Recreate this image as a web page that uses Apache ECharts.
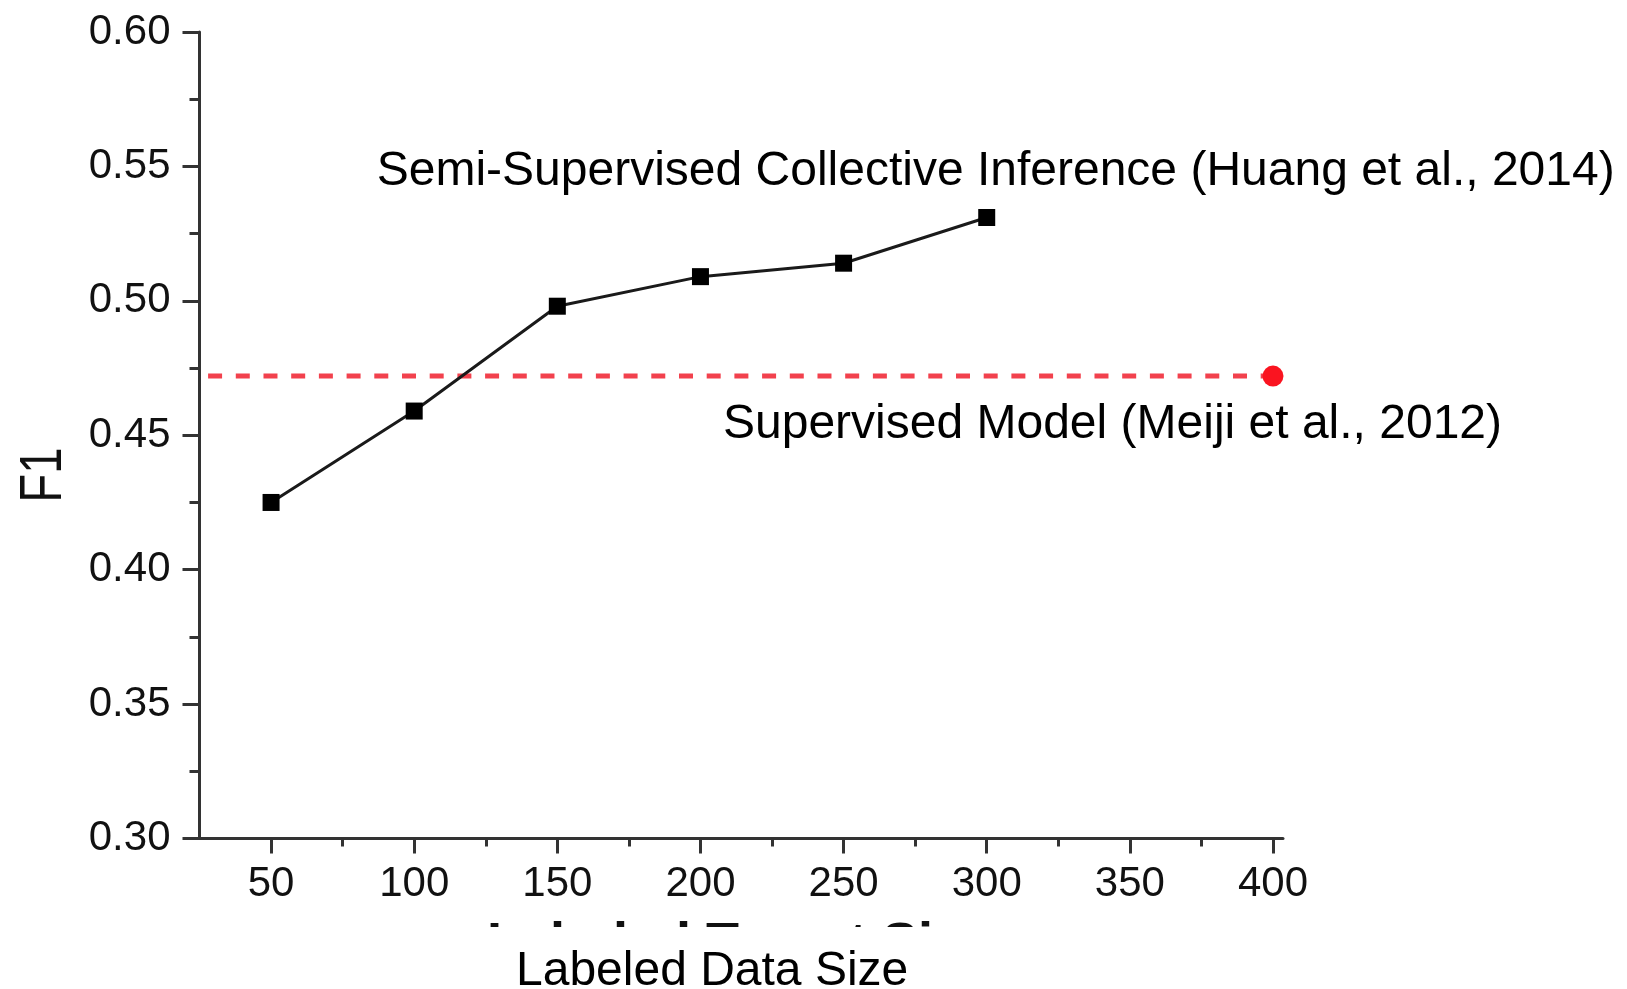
<!DOCTYPE html>
<html>
<head>
<meta charset="utf-8">
<script src="https://cdn.jsdelivr.net/npm/echarts@6/dist/echarts.min.js"></script>
<style>
html,body{margin:0;padding:0;background:#fff;}
#chart{width:1627px;height:989px;}
</style>
</head>
<body>
<div id="chart"></div>
<script>
// ---- data ----
var labeledSizes = [50, 100, 150, 200, 250, 300];
var semiSupervisedF1 = [0.425, 0.459, 0.498, 0.509, 0.514, 0.531];
var supervisedF1 = 0.472;
var supervisedRange = [28, 400];
var xMajorTicks = [50, 100, 150, 200, 250, 300, 350, 400];
var xMinorTicks = [75, 125, 175, 225, 275, 325, 375];
var semiLabel = 'Semi-Supervised Collective Inference (Huang et al., 2014)';
var supLabel = 'Supervised Model (Meiji et al., 2012)';
var xTitle = 'Labeled Data Size';
var xTitleOld = 'Labeled Target Size';
var yTitle = 'F1';

var chart = echarts.init(document.getElementById('chart'), null, {renderer: 'canvas'});

var FONT = '"Liberation Sans", Arial, Helvetica, sans-serif';
var axisColor = '#333333';

var semiData = labeledSizes.map(function (x, i) { return [x, semiSupervisedF1[i]]; });
var supData = [
  {value: [supervisedRange[0], supervisedF1], symbol: 'none'},
  {value: [supervisedRange[1], supervisedF1], symbol: 'circle', symbolSize: 21}
];

var option = {
  backgroundColor: '#ffffff',
  animation: false,
  grid: {left: 199.5, right: 344, top: 32, bottom: 150.5, containLabel: false},
  xAxis: [
    {
      type: 'value', min: 25, max: 403.5,
      axisLine: {show: true, lineStyle: {color: axisColor, width: 3}},
      axisTick: {show: true, inside: false, length: 15, customValues: xMajorTicks, lineStyle: {color: axisColor, width: 3}},
      axisLabel: {show: true, customValues: xMajorTicks, margin: 25, fontSize: 42, fontFamily: FONT, color: '#111'},
      splitLine: {show: false}
    },
    {
      type: 'value', min: 25, max: 403.5, position: 'bottom',
      axisLine: {show: false},
      axisTick: {show: true, inside: false, length: 8, customValues: xMinorTicks, lineStyle: {color: axisColor, width: 3}},
      axisLabel: {show: false},
      splitLine: {show: false}
    }
  ],
  yAxis: {
    type: 'value', min: 0.30, max: 0.60, interval: 0.05,
    axisLine: {show: true, lineStyle: {color: axisColor, width: 3}},
    axisTick: {show: true, inside: false, length: 17, lineStyle: {color: axisColor, width: 3}},
    minorTick: {show: true, splitNumber: 2, length: 10, lineStyle: {color: axisColor, width: 3}},
    axisLabel: {margin: 29, fontSize: 42, fontFamily: FONT, color: '#111',
      formatter: function (v) { return v.toFixed(2); }},
    splitLine: {show: false}
  },
  series: [
    {
      type: 'line', xAxisIndex: 0, data: semiData,
      symbol: 'rect', symbolSize: 17,
      itemStyle: {color: '#000000'},
      lineStyle: {color: '#1a1a1a', width: 3},
      z: 3
    },
    {
      type: 'line', xAxisIndex: 0, data: supData,
      itemStyle: {color: '#fa1420'},
      lineStyle: {color: '#f2414d', width: 5, type: [14, 13.7]},
      z: 2
    }
  ],
  graphic: [
    {type: 'text', z: 10, style: {text: semiLabel, x: 376.7, y: 171.5, font: '48px ' + FONT, fill: '#000',
      textAlign: 'left', textVerticalAlign: 'middle', align: 'left', verticalAlign: 'middle'}},
    {type: 'text', z: 10, style: {text: supLabel, x: 723, y: 425, font: '48px ' + FONT, fill: '#000',
      textAlign: 'left', textVerticalAlign: 'middle', align: 'left', verticalAlign: 'middle'}},
    {type: 'text', z: 10, x: 44.5, y: 475, rotation: Math.PI / 2, scaleX: 0.79,
      style: {text: yTitle, x: 0, y: 0, font: '60px ' + FONT, fill: '#111',
      textAlign: 'center', textVerticalAlign: 'middle', align: 'center', verticalAlign: 'middle'}},
    {type: 'text', z: 10, style: {text: xTitleOld, x: 487, y: 945.5, font: 'bold 54px ' + FONT, fill: '#111',
      textAlign: 'left', textVerticalAlign: 'middle', align: 'left', verticalAlign: 'middle'}},
    {type: 'rect', z: 11, shape: {x: 440, y: 927, width: 560, height: 62}, style: {fill: '#ffffff'}},
    {type: 'text', z: 12, style: {text: xTitle, x: 516, y: 971.5, font: '48px ' + FONT, fill: '#000',
      textAlign: 'left', textVerticalAlign: 'middle', align: 'left', verticalAlign: 'middle'}}
  ]
};
chart.setOption(option);
</script>
</body>
</html>
